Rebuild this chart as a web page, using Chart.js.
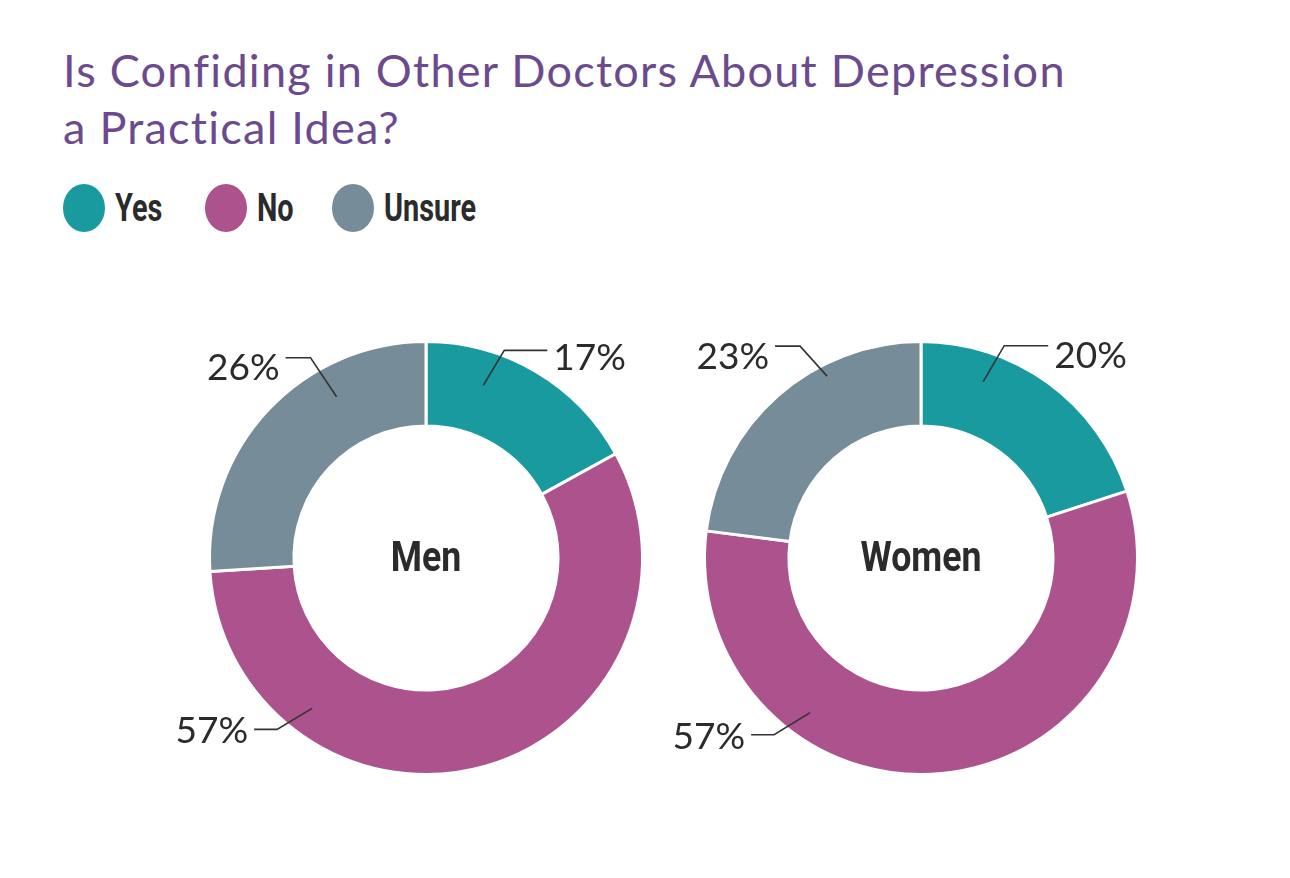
<!DOCTYPE html>
<html>
<head>
<meta charset="utf-8">
<script src="https://cdn.jsdelivr.net/npm/chart.js@4.4.0/dist/chart.umd.min.js"></script>
<style>
  body { margin: 0; background: #fff; width: 1290px; height: 878px; position: relative; overflow: hidden; font-family: Lato, "Open Sans", sans-serif; }
  h1 { position: absolute; left: 63px; top: 42px; margin: 0; font-weight: 400; font-size: 45px; line-height: 57px; letter-spacing: 1.25px; color: #6b4a8e; }
  .item { position: absolute; top: 184px; height: 48px; display: flex; align-items: center; }
  .dot { width: 42px; height: 48px; border-radius: 50%; }
  .lbl { font-family: Roboto, sans-serif; font-weight: 700; font-size: 39px; color: #2b2b2b; margin-left: 10px; transform: scaleX(0.74); transform-origin: left center; white-space: nowrap; }
  canvas { position: absolute; }
</style>
</head>
<body>
<h1>Is Confiding in Other Doctors About Depression<br>a Practical Idea?</h1>
<div id="legend"></div>
<canvas id="menChart" width="600" height="480" style="left:126px; top:318px;"></canvas>
<canvas id="womenChart" width="600" height="480" style="left:621px; top:318px;"></canvas>
<script>
const answers = ['Yes', 'No', 'Unsure'];
const groups = ['Men', 'Women'];
const menValues = [17, 57, 26];
const womenValues = [20, 57, 23];
const colors = ['#189a9e', '#ac528c', '#768c98'];

// legend
const legendLeft = [63, 205, 332];
const legend = document.getElementById('legend');
answers.forEach((a, i) => {
  const item = document.createElement('div');
  item.className = 'item';
  item.style.left = legendLeft[i] + 'px';
  item.innerHTML = '<span class="dot" style="background:' + colors[i] + '"></span><span class="lbl">' + a + '</span>';
  legend.appendChild(item);
});

// leader lines + percent labels
const calloutPlugin = {
  id: 'callouts',
  afterDatasetsDraw(chart, args, opts) {
    const ctx = chart.ctx;
    const meta = chart.getDatasetMeta(0);
    const values = chart.data.datasets[0].data;
    meta.data.forEach((arc, i) => {
      const c = opts.layout[i];
      const p = arc.getProps(['x', 'y', 'startAngle', 'endAngle', 'innerRadius', 'outerRadius'], true);
      const a = p.startAngle + c.frac * (p.endAngle - p.startAngle);
      const r = p.innerRadius + c.rf * (p.outerRadius - p.innerRadius);
      const x0 = p.x + r * Math.cos(a), y0 = p.y + r * Math.sin(a);
      const x1 = x0 + c.dx, y1 = y0 + c.dy;
      const dir = c.dx > 0 ? 1 : -1;
      const x2 = x1 + dir * c.len;
      ctx.save();
      ctx.strokeStyle = '#333';
      ctx.lineWidth = 1.6;
      ctx.beginPath();
      ctx.moveTo(x0, y0);
      ctx.lineTo(x1, y1);
      ctx.lineTo(x2, y1);
      ctx.stroke();
      ctx.font = '37px Lato';
      ctx.fillStyle = '#2b2b2b';
      ctx.textAlign = dir > 0 ? 'left' : 'right';
      ctx.textBaseline = 'middle';
      ctx.fillText(values[i] + '%', x2 + dir * 6, y1 + c.ty);
      ctx.restore();
    });
  }
};

const centerText = {
  id: 'centerText',
  afterDraw(chart, args, opts) {
    const {ctx, chartArea} = chart;
    const cx = (chartArea.left + chartArea.right) / 2;
    const cy = (chartArea.top + chartArea.bottom) / 2;
    ctx.save();
    ctx.translate(cx, cy);
    ctx.scale(0.85, 1);
    ctx.font = 'bold 42px Roboto';
    ctx.fillStyle = '#2b2b2b';
    ctx.textAlign = 'center';
    ctx.textBaseline = 'middle';
    ctx.fillText(opts.text, 0, 2);
    ctx.restore();
  }
};

function makeDonut(id, name, values, layout) {
  return new Chart(document.getElementById(id), {
    type: 'doughnut',
    data: {
      labels: answers,
      datasets: [{
        data: values,
        backgroundColor: colors,
        borderColor: '#fff',
        borderWidth: 3
      }]
    },
    options: {
      responsive: false,
      animation: false,
      cutout: '61%',
      layout: { padding: { left: 82, right: 82, top: 22, bottom: 22 } },
      plugins: {
        legend: { display: false },
        tooltip: { enabled: false },
        callouts: { layout: layout },
        centerText: { text: name }
      }
    },
    plugins: [calloutPlugin, centerText]
  });
}

makeDonut('menChart', groups[0], menValues, [
  { frac: 0.30, rf: 0.59, dx: 21, dy: -35, len: 43, ty: 8 },
  { frac: 0.76, rf: 0.67, dx: -35, dy: 21, len: 23, ty: 2 },
  { frac: 0.69, rf: 0.62, dx: -26, dy: -39, len: 25, ty: 10 }
]);
makeDonut('womenChart', groups[1], womenValues, [
  { frac: 0.27, rf: 0.65, dx: 21, dy: -36, len: 44, ty: 10 },
  { frac: 0.70, rf: 0.69, dx: -36, dy: 22, len: 23, ty: 2 },
  { frac: 0.67, rf: 0.86, dx: -27, dy: -30, len: 25, ty: 11 }
]);
</script>
</body>
</html>
